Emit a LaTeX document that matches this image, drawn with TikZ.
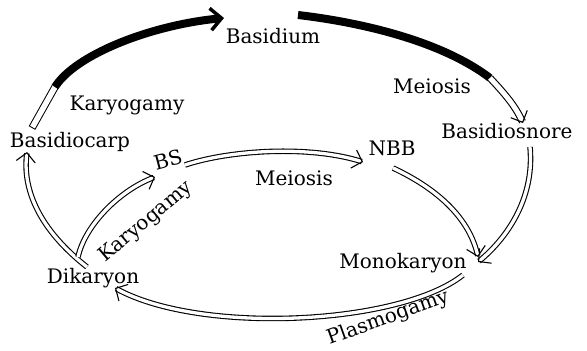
\documentclass[tikz,border=0pt]{standalone}
\usepackage{fontspec}
\setmainfont{DejaVu Serif}
\usetikzlibrary{arrows.meta}
\begin{document}
\begin{tikzpicture}[x=1pt,y=-1pt,
  lbl/.style={font=\fontsize{20}{22}\selectfont, inner sep=0pt, anchor=base},
  rlbl/.style={font=\fontsize{20}{22}\selectfont, inner sep=0pt},
  hollow/.style={line width=1.1pt, double=white, double distance=3.3pt,
    -{Straight Barb[length=9pt,width=19pt]}},
  blackarc/.style={line width=8pt, line cap=butt},
  whiteseg/.style={line width=7.5pt, line cap=butt},
]
\useasboundingbox (0,0) rectangle (587,351);
% labels
\node[lbl] (basidium) at (273,43) {Basidium};
\node[lbl] (karyo1) at (127,110) {Karyogamy};
\node[lbl] (basidiocarp) at (70,147) {Basidiocarp};
\node[rlbl, rotate=15] (bs) at (168,160) {BS};
\node[lbl] (meiosis1) at (294,185) {Meiosis};
\node[lbl] (nbb) at (392,155) {NBB};
\node[lbl] (meiosis2) at (432,93) {Meiosis};
\node[lbl] (basidiosnore) at (507,138) {Basidiosnore};
\node[lbl] (monokaryon) at (403,268) {Monokaryon};
\node[lbl] (dikaryon) at (93,283) {Dikaryon};
\node[rlbl, rotate=40] (karyo2) at (146,222) {Karyogamy};
\node[rlbl, rotate=20] (plasmo) at (388,318) {Plasmogamy};
% coordinates
\coordinate (a0) at (32,128);
\coordinate (a1) at (55,87);
\coordinate (a2) at (224,18);
\coordinate (b0) at (298,15);
\coordinate (b1) at (490,78);
\coordinate (b2) at (523,123);
\coordinate (c0) at (530,147);
\coordinate (mk) at (478,262);
\coordinate (n0) at (393,168);
\coordinate (mk2) at (478,257);
\coordinate (m0) at (463,275);
\coordinate (dk) at (115,288);
\coordinate (d0) at (87,267);
\coordinate (bc) at (27,152);
\coordinate (d1) at (78,257);
\coordinate (bs1) at (155,177);
\coordinate (bs0) at (185,165);
\coordinate (nb1) at (363,162);
% big top-left arrow: white part then black
\draw[whiteseg] (a0) -- (a1);
\draw[whiteseg, white, line width=5.5pt, shorten <=1pt] (a0) -- (a1);
\draw[blackarc, -{Straight Barb[length=11pt,width=22pt,line width=3.5pt]}]
  (a1) .. controls (75,55) and (150,25) .. (a2);
% big top-right arrow: black then hollow
\draw[blackarc] (b0) .. controls (358,22) and (440,40) .. (b1);
\draw[line width=1.1pt, double=white, double distance=5pt,
  -{Straight Barb[length=9pt,width=18pt]}]
  (b1) .. controls (503,92) and (515,105) .. (b2);
% hollow arrows
\draw[hollow] (c0) .. controls (535,200) and (505,240) .. (mk);
\draw[hollow] (n0) .. controls (440,190) and (470,220) .. (mk2);
\draw[hollow] (m0) .. controls (400,325) and (200,335) .. (dk);
\draw[hollow] (d0) .. controls (40,230) and (22,190) .. (bc);
\draw[hollow] (d1) .. controls (85,225) and (120,190) .. (bs1);
\draw[hollow] (bs0) .. controls (230,150) and (310,145) .. (nb1);
\end{tikzpicture}
\end{document}
